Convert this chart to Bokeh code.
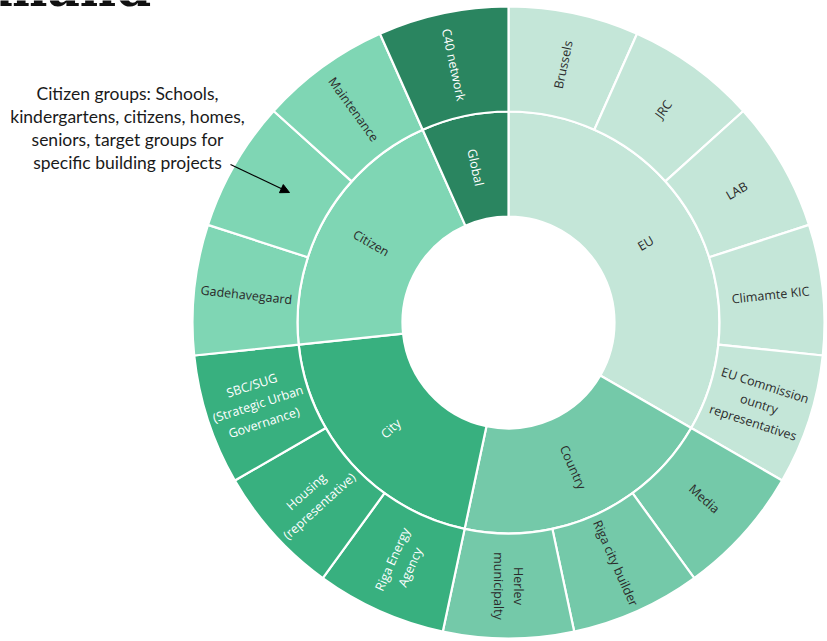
import math
from bokeh.plotting import figure
from bokeh.models import Range1d, ColumnDataSource, Arrow, NormalHead
from bokeh.core.properties import value
from bokeh.embed import file_html
from bokeh.resources import INLINE

# ---------------- data ----------------
groups = ["EU", "Country", "City", "Citizen", "Global"]
group_colors = ["#c4e6d8", "#74c9a9", "#38b07f", "#7fd6b4", "#2a8560"]
group_text_colors = ["#2b2b2b", "#2b2b2b", "#ffffff", "#2b2b2b", "#ffffff"]

leaf_labels = [
    "Brussels", "JRC", "LAB", "Climamte KIC",
    "EU Commission\nountry\nrepresentatives",
    "Media", "Riga city builder", "Herlev\nmunicipalty",
    "Riga Energy\nAgency", "Housing\n(representative)",
    "SBC/SUG\n(Strategic Urban\nGovernance)",
    "Gadehavegaard", "", "Maintenance",
    "C40 network",
]
leaf_parents = [
    "EU", "EU", "EU", "EU", "EU",
    "Country", "Country", "Country",
    "City", "City", "City",
    "Citizen", "Citizen", "Citizen",
    "Global",
]
leaf_values = [1] * 15

title_fragment = "mand"
note_text = ("Citizen groups: Schools,\nkindergartens, citizens, homes,\n"
             "seniors, target groups for\nspecific building projects")

# ---------------- geometry ----------------
W, H = 827, 641
CX, CY = 508, H - 322
R0, R1, R2 = 106, 211, 316


def wedges(vals):
    total = float(sum(vals))
    out = []
    acc = 0.0
    for v in vals:
        a0 = acc / total * 360.0
        acc += v
        a1 = acc / total * 360.0
        out.append((a0, a1))
    return out


def text_angle(theta):
    # theta: clockwise degrees from 12 o'clock at segment middle
    if theta <= 180.0001:
        a = 90.0 - theta
    else:
        a = 270.0 - theta
    return math.radians(a)


group_values = [sum(v for v, p in zip(leaf_values, leaf_parents) if p == g) for g in groups]

p = figure(width=W, height=H, output_backend="svg", toolbar_location=None,
           x_range=Range1d(0, W), y_range=Range1d(0, H), min_border=0)
p.axis.visible = False
p.grid.visible = False
p.outline_line_color = None
p.background_fill_color = "white"
p.border_fill_color = "white"

# inner ring
gw = wedges(group_values)
inner = dict(start=[], end=[], color=[], tx=[], ty=[], ang=[], label=[], tc=[])
for (a0, a1), g, c, tc in zip(gw, groups, group_colors, group_text_colors):
    inner["start"].append(math.radians(90 - a1))
    inner["end"].append(math.radians(90 - a0))
    inner["color"].append(c)
    mid = (a0 + a1) / 2
    rm = (R0 + R1) / 2
    inner["tx"].append(CX + rm * math.sin(math.radians(mid)))
    inner["ty"].append(CY + rm * math.cos(math.radians(mid)))
    inner["ang"].append(text_angle(mid))
    inner["label"].append(g)
    inner["tc"].append(tc)
isrc = ColumnDataSource(inner)
p.annular_wedge(x=CX, y=CY, inner_radius=R0, outer_radius=R1,
                start_angle="start", end_angle="end", direction="anticlock",
                fill_color="color", line_color="white", line_width=2.2, source=isrc)

# outer ring
lw = wedges(leaf_values)
outer = dict(start=[], end=[], color=[], tx=[], ty=[], ang=[], label=[], tc=[])
for (a0, a1), lab, par in zip(lw, leaf_labels, leaf_parents):
    gi = groups.index(par)
    outer["start"].append(math.radians(90 - a1))
    outer["end"].append(math.radians(90 - a0))
    outer["color"].append(group_colors[gi])
    mid = (a0 + a1) / 2
    rm = (R1 + R2) / 2
    outer["tx"].append(CX + rm * math.sin(math.radians(mid)))
    outer["ty"].append(CY + rm * math.cos(math.radians(mid)))
    outer["ang"].append(text_angle(mid))
    outer["label"].append(lab)
    outer["tc"].append(group_text_colors[gi])
osrc = ColumnDataSource(outer)
p.annular_wedge(x=CX, y=CY, inner_radius=R1, outer_radius=R2,
                start_angle="start", end_angle="end", direction="anticlock",
                fill_color="color", line_color="white", line_width=2.2, source=osrc)

for src in (isrc, osrc):
    p.text(x="tx", y="ty", text="label", angle="ang", source=src,
           text_align="center", text_baseline="middle",
           text_font=value("Open Sans"), text_font_size="12.5px",
           text_color="tc", text_line_height=1.15)

# title fragment (cut off at top of the page, as in the reference)
p.text(x=[-6], y=[H + 12], text=[title_fragment], text_align="left",
       text_baseline="alphabetic", text_font=value("DejaVu Serif"),
       text_font_style="bold", text_font_size="50px", text_color="#111111")

# annotation
p.text(x=[127], y=[H - 127.5], text=[note_text], text_align="center",
       text_baseline="middle", text_font=value("Lato"), text_font_size="17.5px",
       text_color="#1a1a1a", text_line_height=1.09)
p.add_layout(Arrow(end=NormalHead(size=9, fill_color="black", line_color="black"),
                   x_start=230, y_start=H - 164, x_end=289, y_end=H - 192,
                   line_color="black", line_width=1.2))

open("out.html", "w").write(file_html(p, INLINE))
